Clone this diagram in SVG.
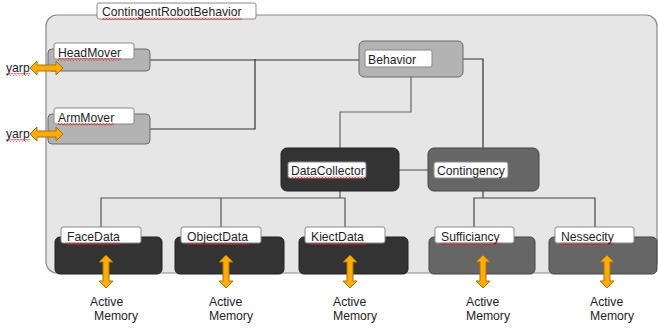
<svg xmlns="http://www.w3.org/2000/svg" width="658" height="328" viewBox="0 0 658 328">
<style>
text{font-family:"Liberation Sans",Arial,sans-serif;font-size:12.2px;fill:#1e1e2a}
.lbl{fill:#fff;stroke:#8a8a8a;stroke-width:1}
.gray{fill:#b3b3b3;stroke:#6a6a6a;stroke-width:1}
.dark{fill:#333;stroke:#222;stroke-width:1}
.mid{fill:#666;stroke:#444;stroke-width:1}
.arr{fill:#ffab0a;stroke:#a87300;stroke-width:1}
.c{fill:none;stroke-width:1.2}
.sq{fill:url(#squig)}
</style>
<defs>
<pattern id="squig" patternUnits="userSpaceOnUse" width="3" height="3">
<path d="M0,2.5 L1.5,0.5 L3,2.5" fill="none" stroke="#e02020" stroke-width="0.8"/>
</pattern>
<path id="varr" d="M0,0 L7,7 L3,7 L3,26 L7,26 L0,33 L-7,26 L-3,26 L-3,7 L-7,7 Z"/>
<path id="harr" d="M0,0 L7,-7 L7,-3 L26,-3 L26,-7 L33,0 L26,7 L26,3 L7,3 L7,7 Z"/>
</defs>

<g id="container">
<rect x="46" y="15" width="611" height="258" rx="11" fill="#e6e6e6" stroke="#8a8a8a" stroke-width="1.2"/>
<rect class="lbl" x="97" y="3" width="159" height="16" rx="2"/>
<text x="102" y="16">ContingentRobotBehavior</text>
<rect class="sq" x="102" y="17" width="140" height="3"/>
</g>

<g id="connectors">
<path class="c" stroke="#333" d="M150,60 H359"/>
<path class="c" stroke="#333" d="M150,129 H255 V59"/>
<path class="c" stroke="#333" d="M463,59 H483 V148"/>
<path class="c" stroke="#666" d="M411,77 V112 H340 V148"/>
<path class="c" stroke="#666" d="M399,170 H428"/>
<path class="c" stroke="#555" d="M340,191 V198 M101,227 V198 H345 V227 M221,198 V227"/>
<path class="c" stroke="#444" d="M483,191 V198 M474,227 V198 H595 V227"/>
</g>

<g id="HeadMover">
<rect class="gray" x="48" y="49" width="102" height="22" rx="4"/>
<rect class="lbl" x="54" y="43" width="80" height="16" rx="2"/>
<text x="58" y="57">HeadMover</text>
<rect class="sq" x="58" y="58" width="63" height="3"/>
</g>
<g id="yarp1">
<use href="#harr" class="arr" x="30" y="68"/>
<text x="6" y="72">yarp</text>
<rect class="sq" x="6" y="73" width="24" height="3"/>
</g>

<g id="ArmMover">
<rect class="gray" x="48" y="114" width="102" height="30" rx="4"/>
<rect class="lbl" x="54" y="108" width="80" height="16" rx="2"/>
<text x="58" y="122">ArmMover</text>
<rect class="sq" x="58" y="123" width="56" height="3"/>
</g>
<g id="yarp2">
<use href="#harr" class="arr" x="30" y="134"/>
<text x="6" y="138">yarp</text>
<rect class="sq" x="6" y="139" width="24" height="3"/>
</g>

<g id="Behavior">
<rect class="gray" x="359" y="41" width="104" height="36" rx="5"/>
<rect class="lbl" x="365" y="50" width="67" height="17" rx="2"/>
<text x="368" y="64">Behavior</text>
</g>

<g id="DataCollector">
<rect class="dark" x="281" y="148" width="118" height="43" rx="6"/>
<rect class="lbl" x="288" y="162" width="78" height="16" rx="2"/>
<text x="291" y="175">DataCollector</text>
<rect class="sq" x="291" y="176" width="74" height="3"/>
</g>

<g id="Contingency">
<rect class="mid" x="428" y="148" width="111" height="43" rx="6"/>
<rect class="lbl" x="434" y="162" width="74" height="16" rx="2"/>
<text x="437" y="175">Contingency</text>
</g>

<g id="FaceData">
<rect class="dark" x="55" y="237" width="107" height="37" rx="5"/>
<rect class="lbl" x="61" y="227" width="80" height="16" rx="2"/>
<text x="67" y="241">FaceData</text>
<rect class="sq" x="67" y="242" width="53" height="3"/>
<use href="#varr" class="arr" x="106" y="255"/>
<text x="90" y="306">Active</text>
<text x="94" y="320">Memory</text>
</g>

<g id="ObjectData">
<rect class="dark" x="175" y="237" width="109" height="37" rx="5"/>
<rect class="lbl" x="181" y="227" width="80" height="16" rx="2"/>
<text x="187" y="241">ObjectData</text>
<rect class="sq" x="187" y="242" width="62" height="3"/>
<use href="#varr" class="arr" x="226" y="255"/>
<text x="209" y="306">Active</text>
<text x="209" y="320">Memory</text>
</g>

<g id="KiectData">
<rect class="dark" x="299" y="237" width="109" height="37" rx="5"/>
<rect class="lbl" x="305" y="227" width="80" height="16" rx="2"/>
<text x="311" y="241">KiectData</text>
<rect class="sq" x="311" y="242" width="55" height="3"/>
<use href="#varr" class="arr" x="350" y="255"/>
<text x="333" y="306">Active</text>
<text x="333" y="320">Memory</text>
</g>

<g id="Sufficiancy">
<rect class="mid" x="429" y="237" width="106" height="37" rx="5"/>
<rect class="lbl" x="435" y="227" width="79" height="16" rx="2"/>
<text x="441" y="241">Sufficiancy</text>
<rect class="sq" x="441" y="242" width="60" height="3"/>
<use href="#varr" class="arr" x="483" y="255"/>
<text x="466" y="306">Active</text>
<text x="466" y="320">Memory</text>
</g>

<g id="Nessecity">
<rect class="mid" x="549" y="237" width="108" height="37" rx="5"/>
<rect class="lbl" x="555" y="227" width="79" height="16" rx="2"/>
<text x="561" y="241">Nessecity</text>
<rect class="sq" x="561" y="242" width="53" height="3"/>
<use href="#varr" class="arr" x="607" y="255"/>
<text x="590" y="306">Active</text>
<text x="590" y="320">Memory</text>
</g>
</svg>
